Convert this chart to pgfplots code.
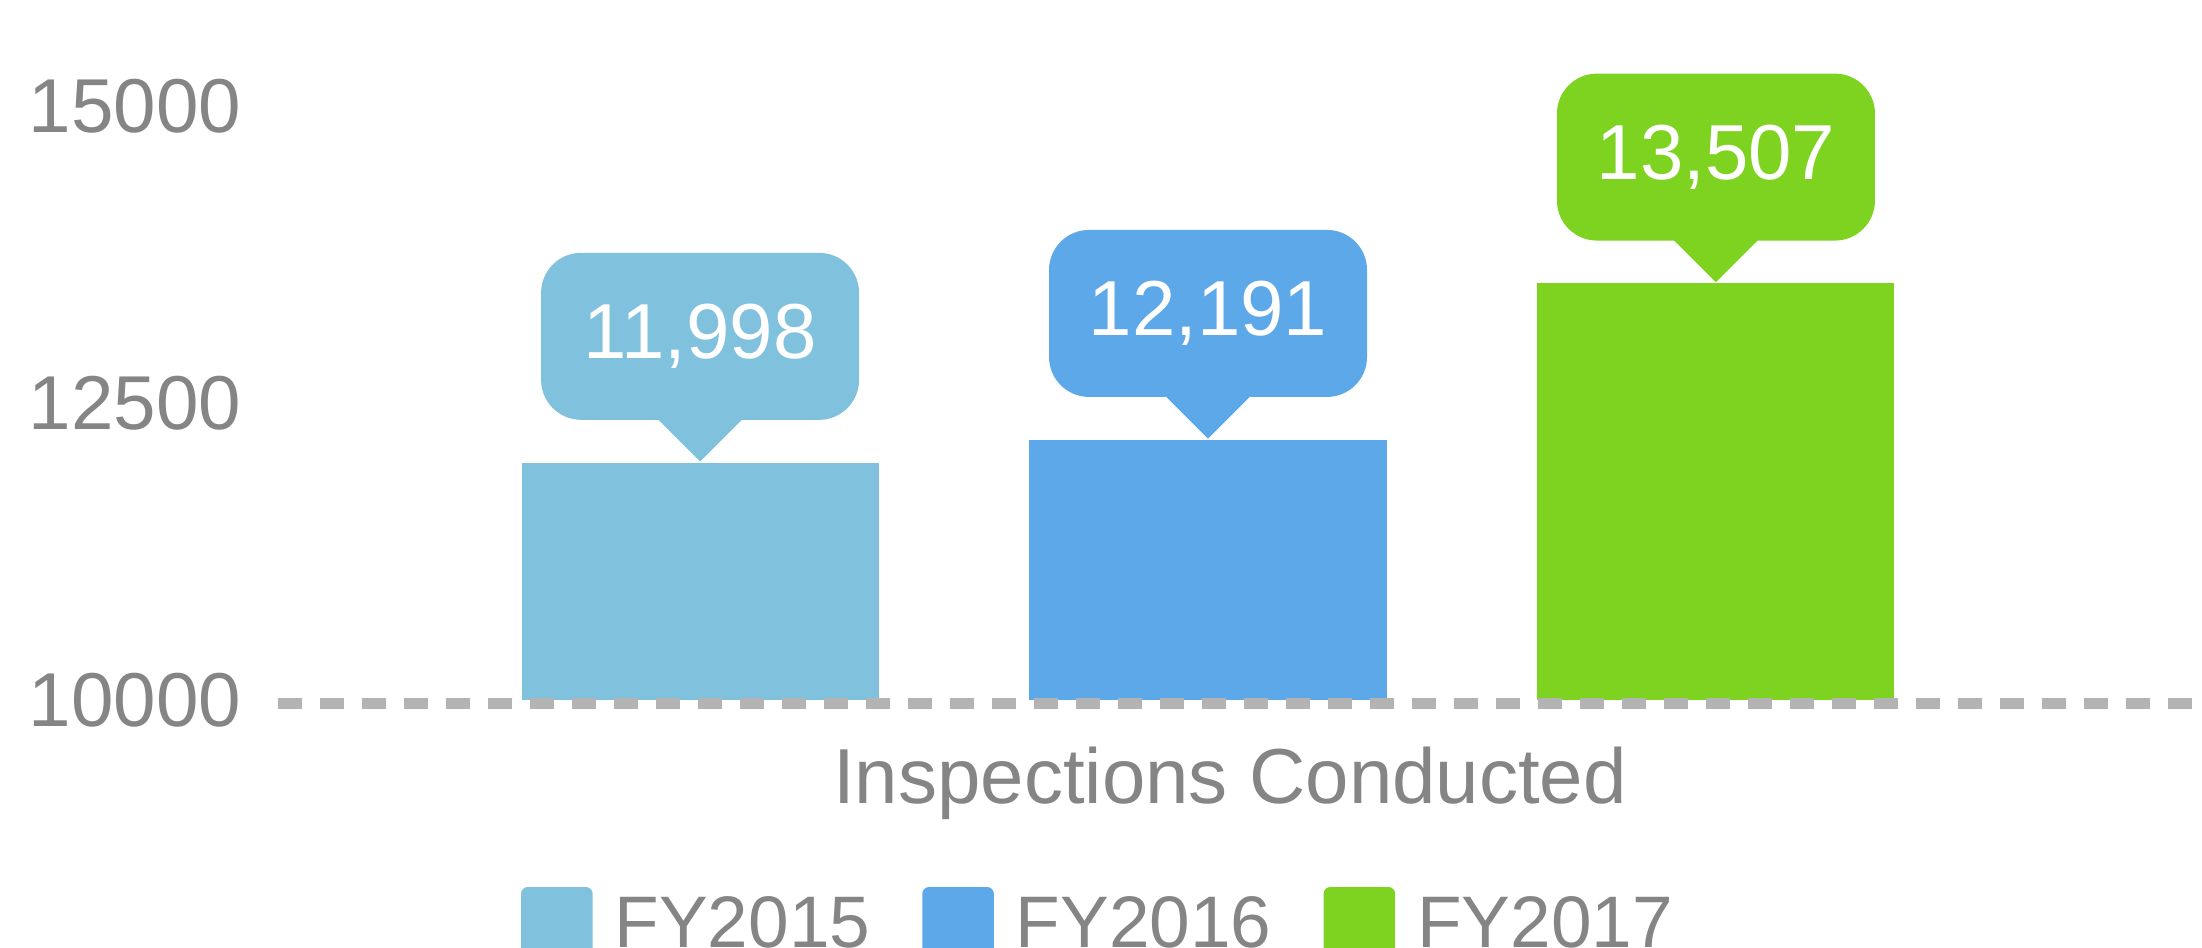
\documentclass[border=0pt]{standalone}
\usepackage{fontspec}
\setmainfont{Liberation Sans}
\usepackage{pgfplots}
\pgfplotsset{compat=1.18}
\usetikzlibrary{shapes.geometric}
\definecolor{cA}{HTML}{80C1DE}
\definecolor{cB}{HTML}{5DA8E9}
\definecolor{cC}{HTML}{7ED321}
\definecolor{txt}{HTML}{858585}
\definecolor{dashc}{HTML}{B3B3B3}
\newcommand{\chartfont}{\fontsize{19.5}{23}\selectfont}
\newcommand{\tickfont}{\fontsize{19.1}{23}\selectfont}
\newcommand{\legfont}{\fontsize{18.25}{22}\selectfont}
\tikzset{callout/.style={fill=#1, text=white, rounded corners=10pt, minimum width=79.5pt, minimum height=41.75pt, inner sep=0pt, anchor=south, yshift=10.5pt, font=\chartfont,
 label={[anchor=apex, fill=#1, sharp corners, isosceles triangle, shape border rotate=-90, isosceles triangle apex angle=90, inner sep=0pt, minimum height=21pt, minimum width=10.5pt, label distance=0pt, yshift=-10.5pt]south:{}}}}
\begin{document}
\begin{tikzpicture}
\path[use as bounding box] (0,0) rectangle (550.5pt,236.75pt);
\clip (0,0) rectangle (550.5pt,236.75pt);
\begin{axis}[
  at={(69.5pt,61.75pt)}, anchor=south west,
  scale only axis, width=481pt, height=148.5pt,
  xmin=-0.831, xmax=2.957, ymin=10000, ymax=15000,
  clip=false,
  axis lines*=left, axis line style={draw=none},
  major tick length=0pt,
  xtick=\empty,
  ytick={10000,12500,15000},
  scaled y ticks=false,
  /pgf/number format/assume math mode=true,
  yticklabel style={anchor=east, inner sep=0pt, xshift=-9pt, font=\tickfont, text=txt, /pgf/number format/1000 sep={}},
  xlabel={Inspections Conducted},
  xlabel style={at={(rel axis cs:0.4948,0)}, anchor=base, yshift=-25.75pt, inner sep=0pt, font=\chartfont, text=txt},
  legend columns=3,
  legend style={at={(rel axis cs:0,0)}, anchor=north west, xshift=60.75pt, yshift=-46.75pt, draw=none, fill=none, inner sep=0pt, outer sep=0pt, font=\legfont, text=txt, nodes={inner sep=0pt}, /tikz/every odd column/.append style={column sep=5.5pt}, /tikz/every even column/.append style={column sep=13pt}},
]
\addplot[ybar, bar shift=0pt, bar width=0.703, fill=cA, draw=none, forget plot, point meta=y,
  nodes near coords={\pgfmathprintnumber[1000 sep={,}]{\pgfplotspointmeta}},
  every node near coord/.append style={callout=cA}] coordinates {(0,11998)};
\addplot[ybar, bar shift=0pt, bar width=0.703, fill=cB, draw=none, forget plot, point meta=y,
  nodes near coords={\pgfmathprintnumber[1000 sep={,}]{\pgfplotspointmeta}},
  every node near coord/.append style={callout=cB}] coordinates {(1,12191)};
\addplot[ybar, bar shift=0pt, bar width=0.703, fill=cC, draw=none, forget plot, point meta=y,
  nodes near coords={\pgfmathprintnumber[1000 sep={,}]{\pgfplotspointmeta}},
  every node near coord/.append style={callout=cC}] coordinates {(2,13507)};
\draw[dashc, line width=2.75pt, dash pattern=on 5.9pt off 4.6pt] ([yshift=-0.75pt]rel axis cs:0,0) -- ([yshift=-0.75pt]rel axis cs:1,0);
\addlegendimage{legend image code/.code={\fill[cA, rounded corners=1.5pt] (0pt,-8.25pt) rectangle (17.5pt,9.25pt);}}
\addlegendentry{FY2015}
\addlegendimage{legend image code/.code={\fill[cB, rounded corners=1.5pt] (0pt,-8.25pt) rectangle (17.5pt,9.25pt);}}
\addlegendentry{FY2016}
\addlegendimage{legend image code/.code={\fill[cC, rounded corners=1.5pt] (0pt,-8.25pt) rectangle (17.5pt,9.25pt);}}
\addlegendentry{FY2017}
\end{axis}
\end{tikzpicture}
\end{document}
